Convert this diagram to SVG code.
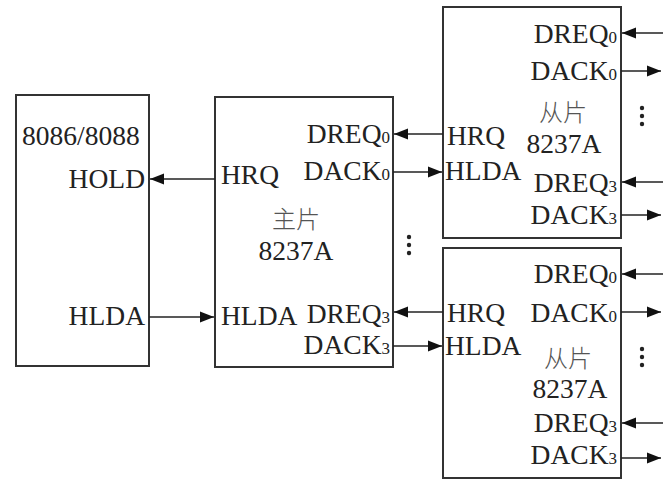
<svg xmlns="http://www.w3.org/2000/svg" width="663" height="481" viewBox="0 0 663 481">
<style>
.box{fill:#fff;stroke:#333;stroke-width:2}
.t{font-family:"Liberation Serif","Times New Roman",serif;font-size:27.5px;fill:#222}
.e{text-anchor:end}
.m{text-anchor:middle}
.s{font-size:17px}
.cn{font-family:"Noto Sans CJK SC",sans-serif;font-size:24px;fill:#555;font-weight:300;text-anchor:middle}
.ln{stroke:#222;stroke-width:1.6;fill:none;marker-end:url(#ah)}
.dot{fill:#222}
</style>
<defs>
<marker id="ah" markerUnits="userSpaceOnUse" markerWidth="15" markerHeight="13" refX="14" refY="6.5" orient="auto">
<path d="M0,1 L14,6.5 L0,12 z" fill="#111"/>
</marker>
</defs>
<g id="cpu">
<rect class="box" x="16" y="95" width="133" height="271"/>
<text class="t" x="22" y="145">8086/8088</text>
<text class="t e" x="145" y="188">HOLD</text>
<text class="t e" x="145" y="325">HLDA</text>
</g>
<g id="master">
<rect class="box" x="215" y="97" width="178" height="270"/>
<text class="t" x="221" y="184">HRQ</text>
<text class="t" x="221" y="325">HLDA</text>
<text class="t e" x="390" y="143">DREQ<tspan class="s">0</tspan></text>
<text class="t e" x="390" y="180">DACK<tspan class="s">0</tspan></text>
<text class="t e" x="390" y="323">DREQ<tspan class="s">3</tspan></text>
<text class="t e" x="390" y="354">DACK<tspan class="s">3</tspan></text>
<text class="cn" x="296" y="228">主片</text>
<text class="t m" x="296" y="260">8237A</text>
<circle class="dot" cx="409" cy="237" r="2.2"/>
<circle class="dot" cx="409" cy="245" r="2.2"/>
<circle class="dot" cx="409" cy="253" r="2.2"/>
</g>
<g id="slave1">
<rect class="box" x="443" y="7" width="178" height="231"/>
<text class="t" x="447" y="145">HRQ</text>
<text class="t" x="445" y="180">HLDA</text>
<text class="t e" x="617" y="43">DREQ<tspan class="s">0</tspan></text>
<text class="t e" x="617" y="80">DACK<tspan class="s">0</tspan></text>
<text class="t e" x="617" y="192">DREQ<tspan class="s">3</tspan></text>
<text class="t e" x="617" y="224">DACK<tspan class="s">3</tspan></text>
<text class="cn" x="563" y="121">从片</text>
<text class="t m" x="564" y="153">8237A</text>
<circle class="dot" cx="642" cy="108" r="2.2"/>
<circle class="dot" cx="642" cy="116" r="2.2"/>
<circle class="dot" cx="642" cy="124" r="2.2"/>
</g>
<g id="slave2">
<rect class="box" x="443" y="248" width="178" height="230"/>
<text class="t" x="447" y="322">HRQ</text>
<text class="t" x="445" y="355">HLDA</text>
<text class="t e" x="617" y="283">DREQ<tspan class="s">0</tspan></text>
<text class="t e" x="617" y="322">DACK<tspan class="s">0</tspan></text>
<text class="t e" x="617" y="432">DREQ<tspan class="s">3</tspan></text>
<text class="t e" x="617" y="464">DACK<tspan class="s">3</tspan></text>
<text class="cn" x="568" y="367">从片</text>
<text class="t m" x="570" y="398">8237A</text>
<circle class="dot" cx="642" cy="349" r="2.2"/>
<circle class="dot" cx="642" cy="357" r="2.2"/>
<circle class="dot" cx="642" cy="365" r="2.2"/>
</g>
<g id="connectors">
<line class="ln" x1="215" y1="179" x2="150" y2="179"/>
<line class="ln" x1="149" y1="317" x2="214" y2="317"/>
<line class="ln" x1="443" y1="134" x2="394" y2="134"/>
<line class="ln" x1="393" y1="172" x2="442" y2="172"/>
<line class="ln" x1="443" y1="312" x2="394" y2="312"/>
<line class="ln" x1="393" y1="346" x2="442" y2="346"/>
<line class="ln" x1="663" y1="33" x2="622" y2="33"/>
<line class="ln" x1="621" y1="71" x2="661" y2="71"/>
<line class="ln" x1="663" y1="182" x2="622" y2="182"/>
<line class="ln" x1="621" y1="215" x2="661" y2="215"/>
<line class="ln" x1="663" y1="274" x2="622" y2="274"/>
<line class="ln" x1="621" y1="312" x2="661" y2="312"/>
<line class="ln" x1="663" y1="423" x2="622" y2="423"/>
<line class="ln" x1="621" y1="458" x2="661" y2="458"/>
</g>
</svg>
